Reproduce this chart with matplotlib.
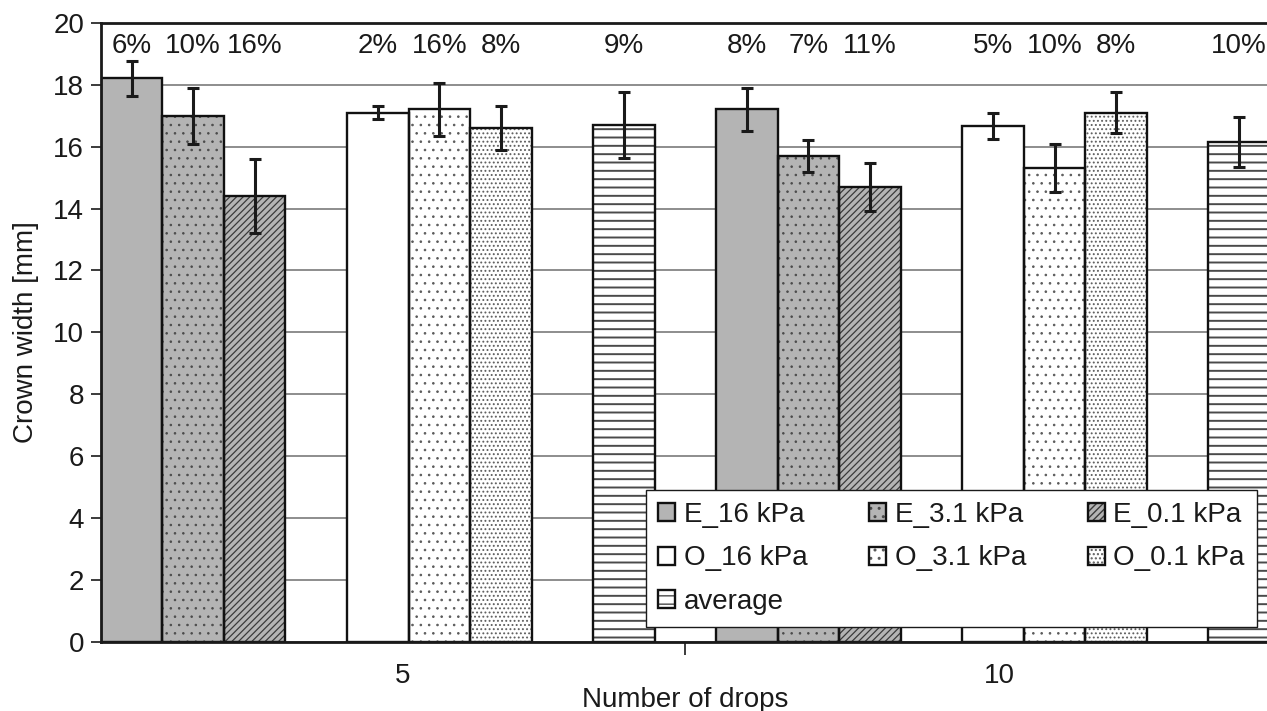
import numpy as np
import matplotlib.pyplot as plt
from matplotlib.legend_handler import HandlerTuple

plt.rcParams['font.family'] = ['Liberation Sans', 'DejaVu Sans']
plt.rcParams['hatch.linewidth'] = 1.0

# number of drops (categories)
drops = ['5', '10']
series = ['E_16 kPa', 'E_3.1 kPa', 'E_0.1 kPa', 'O_16 kPa', 'O_3.1 kPa', 'O_0.1 kPa', 'average']

# mean crown width [mm] for 5 and 10 drops
e_16 = [18.2, 17.2]
e_31 = [17.0, 15.7]
e_01 = [14.4, 14.7]
o_16 = [17.1, 16.65]
o_31 = [17.2, 15.3]
o_01 = [16.6, 17.1]
average = [16.7, 16.15]

# error bar half-lengths
e_16_err = [0.55, 0.7]
e_31_err = [0.9, 0.52]
e_01_err = [1.2, 0.78]
o_16_err = [0.2, 0.42]
o_31_err = [0.85, 0.78]
o_01_err = [0.7, 0.65]
average_err = [1.07, 0.8]

# coefficient of variation written above each bar
e_16_cv = ['6%', '8%']
e_31_cv = ['10%', '7%']
e_01_cv = ['16%', '11%']
o_16_cv = ['2%', '5%']
o_31_cv = ['16%', '10%']
o_01_cv = ['8%', '8%']
average_cv = ['9%', '10%']

means = [e_16, e_31, e_01, o_16, o_31, o_01, average]
errs = [e_16_err, e_31_err, e_01_err, o_16_err, o_31_err, o_01_err, average_err]
cvs = [e_16_cv, e_31_cv, e_01_cv, o_16_cv, o_31_cv, o_01_cv, average_cv]

# slot of each series inside a category, empty slots between E, O and average
offsets = [0, 1, 2, 4, 5, 6, 8]
group_start = [0, 10]
colors = ['#b4b4b4', '#b4b4b4', '#b4b4b4', 'white', 'white', 'white', 'white']
hatches = [None, '..', '/////', None, '..', '....', '--']
hatch_colors = ['#b4b4b4', '#4a4a4a', '#3a3a3a', 'white', '#5a5a5a', '#5e5e5e', '#4a4a4a']
hatch_lw = [1.0, 0.6, 0.9, 1.0, 0.65, 0.85, 1.4]

FS = 20

fig = plt.figure(figsize=(12.67, 7.11), dpi=100)
ax = fig.add_axes([0.0796, 0.097, 0.9227, 0.871])

handles = []
for i in range(len(series)):
    x = np.array(group_start) + offsets[i]
    with plt.rc_context({'hatch.linewidth': hatch_lw[i]}):
        fill = ax.bar(x, means[i], width=1.0, color=colors[i], edgecolor=hatch_colors[i],
                      linewidth=0, hatch=hatches[i], zorder=2)
    for p in fill:
        if hasattr(p, 'set_hatch_linewidth'):
            p.set_hatch_linewidth(hatch_lw[i])
    outline = ax.bar(x, means[i], width=1.0, fill=False, edgecolor='#111111',
                     linewidth=1.7, zorder=2.5)
    ax.errorbar(x, means[i], yerr=errs[i], fmt='none', ecolor='#1a1a1a',
                elinewidth=2.2, capsize=4.5, capthick=2.2, zorder=3)
    for xi, t in zip(x, cvs[i]):
        ax.text(xi, 19.25, t, ha='center', va='center', fontsize=FS, color='#1a1a1a')
    handles.append((fill.patches[0], outline.patches[0]))

ax.set_xlim(-0.5, 18.5)
ax.set_ylim(0, 20)
ax.set_yticks(np.arange(0, 21, 2))
ax.yaxis.grid(True, color='#7a7a7a', linewidth=1.2, zorder=0)
ax.set_axisbelow(True)

# category separator tick and category labels
ax.set_xticks([9])
ax.set_xticklabels([''])
ax.tick_params(axis='x', which='major', length=9, width=1.2, direction='out', color='#1a1a1a')
ax.set_xticks([4.4, 14.1], minor=True)
ax.set_xticklabels(drops, minor=True)
ax.tick_params(axis='x', which='minor', length=0, pad=15, labelsize=FS, labelcolor='#1a1a1a')
ax.tick_params(axis='y', length=7, width=1.2, labelsize=FS, pad=5, labelcolor='#1a1a1a', color='#1a1a1a')

for s in ['left', 'bottom', 'top']:
    ax.spines[s].set_linewidth(2.0)
    ax.spines[s].set_color('#1a1a1a')
ax.spines['right'].set_visible(False)

ax.set_ylabel('Crown width [mm]', fontsize=FS, labelpad=10, color='#1a1a1a')
ax.set_xlabel('Number of drops', fontsize=FS, labelpad=-1, color='#1a1a1a')

order = [0, 3, 6, 1, 4, 2, 5]
leg = ax.legend([handles[k] for k in order], [series[k] for k in order],
                handler_map={tuple: HandlerTuple(ndivide=1, pad=0)},
                loc='lower left', bbox_to_anchor=(0.466, 0.024, 0.523, 0.223),
                mode='expand', ncol=3, fontsize=FS, frameon=True, fancybox=False,
                framealpha=1, handlelength=0.62, handleheight=0.62, handletextpad=0.3,
                labelspacing=0.62, borderpad=0.45, borderaxespad=0, columnspacing=1.0)
leg.get_frame().set_edgecolor('#1a1a1a')
leg.get_frame().set_linewidth(1.0)
leg.set_zorder(5)
for t in leg.get_texts():
    t.set_color('#1a1a1a')

fig.savefig('out.png', dpi=100)
